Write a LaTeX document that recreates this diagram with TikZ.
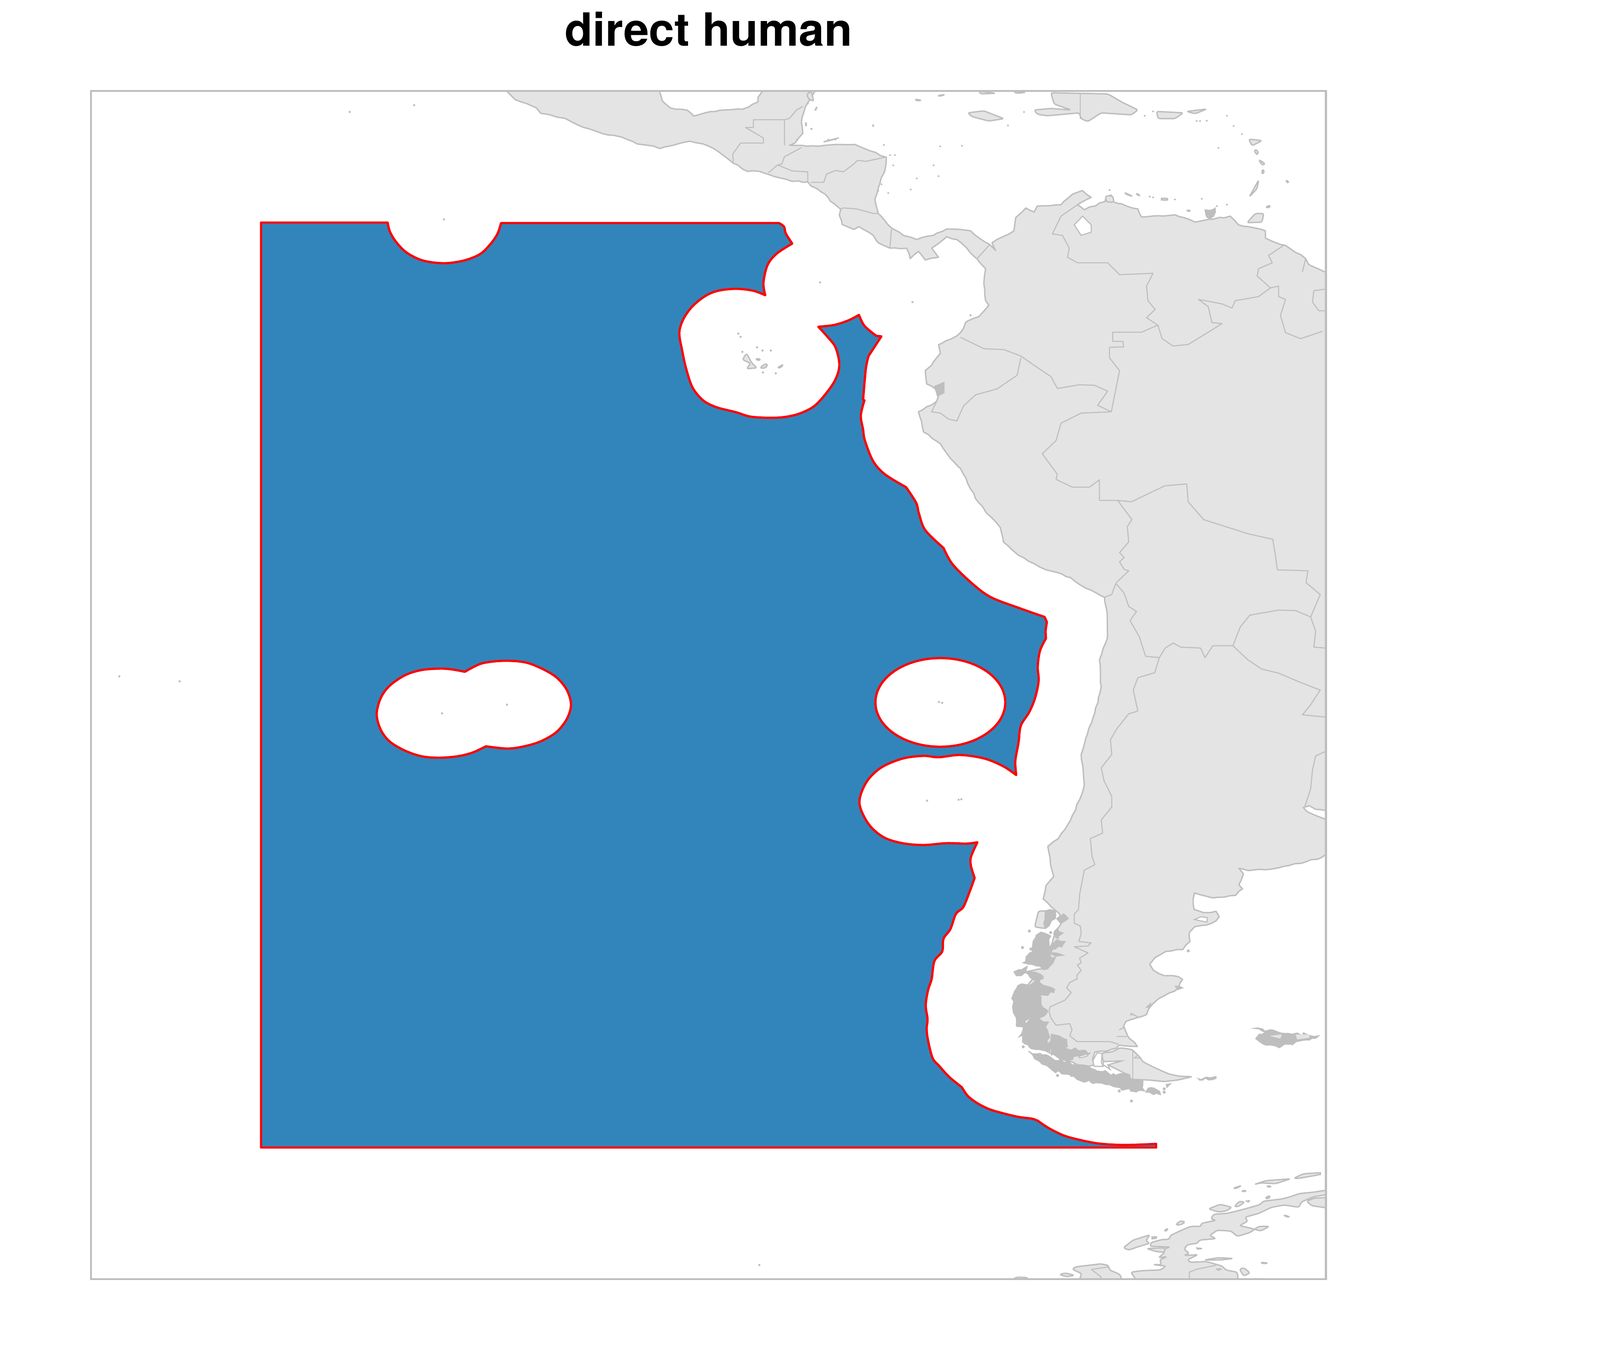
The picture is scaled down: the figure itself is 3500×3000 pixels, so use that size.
\documentclass[tikz,border=0pt]{standalone}
\usepackage{fontspec}
\usepackage{xcolor}
\usetikzlibrary{decorations.pathmorphing}
\newfontfamily\titlefont{TeX Gyre Heros}
\definecolor{landgrey}{HTML}{E4E4E4}
\definecolor{edgegrey}{HTML}{BEBEBE}
\definecolor{oceanblue}{HTML}{3285BB}

\begin{document}
\begin{tikzpicture}[x=0.01cm, y=-0.01cm,
    land/.style={fill=landgrey, draw=edgegrey, line width=0.85pt, line join=round, rounded corners=1.2pt},
    roughland/.style={fill=landgrey, draw=edgegrey, line width=0.85pt, line join=round, decorate,
        decoration={random steps, segment length=3.5pt, amplitude=0.45pt}},
    border/.style={draw=edgegrey, line width=0.65pt, line join=round},
    dense/.style={fill=edgegrey, draw=edgegrey, line width=0.7pt, decorate,
        decoration={random steps, segment length=2.5pt, amplitude=1.2pt}},
    channel/.style={fill=white, draw=edgegrey, line width=0.7pt},
    speck/.style={fill=edgegrey},
    zonesmooth/.style={smooth, tension=0.55}]

\useasboundingbox (0,0) rectangle (3500,3000);

% Title
\node[anchor=base, font=\titlefont\bfseries\fontsize{28.45}{30}\selectfont] (titlelabel) at (1550,101) {direct human};

\begin{scope}
\clip (199,199) rectangle (2900,2800);

% Americas
\draw[roughland] (1110,201) -- (1127,218) -- (1153,227) -- (1173,236) -- (1183,248) -- (1236,259) -- (1251,267) -- (1277,279) -- (1317,292)
  -- (1360,300) -- (1394,315) -- (1417,318) -- (1443,325) -- (1463,320) -- (1486,314) -- (1509,309) -- (1538,315) -- (1561,325)
  -- (1604,357) -- (1635,375) -- (1661,375) -- (1693,386) -- (1733,397) -- (1767,398) -- (1774,407) -- (1805,425) -- (1816,440)
  -- (1839,458) -- (1836,471) -- (1842,491) -- (1868,502) -- (1879,496) -- (1910,515) -- (1921,531) -- (1947,543) -- (1983,543)
  -- (1991,566) -- (2009,550) -- (2024,569) -- (2053,563) -- (2038,543) -- (2071,518) -- (2093,524) -- (2115,543) -- (2137,566)
  -- (2141,572) -- (2156,588) -- (2152,620) -- (2156,658) -- (2163,668) -- (2141,693) -- (2112,706) -- (2101,728) -- (2093,735)
  -- (2053,754) -- (2057,773) -- (2038,799) -- (2024,811) -- (2027,840) -- (2053,856) -- (2049,878) -- (2009,901) -- (2016,923)
  -- (2020,945) -- (2057,971) -- (2079,1003) -- (2101,1025) -- (2123,1070) -- (2141,1100) -- (2158,1123) -- (2188,1154) -- (2195,1186)
  -- (2228,1215) -- (2275,1241) -- (2342,1264) -- (2375,1287) -- (2416,1307) -- (2422,1352) -- (2422,1398) -- (2405,1444) -- (2409,1502)
  -- (2395,1559) -- (2379,1605) -- (2365,1651) -- (2372,1717) -- (2362,1749) -- (2342,1794) -- (2315,1835) -- (2292,1852) -- (2298,1892)
  -- (2305,1918) -- (2288,1938) -- (2282,1967) -- (2300,1985) -- (2318,2000) -- (2322,2020) -- (2313,2033) -- (2305,2050) -- (2297,2075)
  -- (2283,2120) -- (2243,2127) -- (2267,2133) -- (2250,2153) -- (2225,2187) -- (2233,2217) -- (2240,2240) -- (2237,2267) -- (2240,2283)
  -- (2313,2310) -- (2357,2330) -- (2383,2333) -- (2393,2330) -- (2390,2317) -- (2395,2302) -- (2420,2300) -- (2443,2293) -- (2448,2287)
  -- (2488,2290) -- (2467,2267) -- (2458,2245) -- (2463,2235) -- (2487,2227) -- (2508,2220) -- (2513,2207) -- (2535,2185) -- (2577,2163)
  -- (2587,2143) -- (2577,2137) -- (2547,2135) -- (2523,2123) -- (2515,2110) -- (2527,2095) -- (2550,2082) -- (2587,2078) -- (2603,2060)
  -- (2602,2040) -- (2613,2028) -- (2640,2024) -- (2660,2015) -- (2667,2006) -- (2660,1994) -- (2633,1997) -- (2612,1990) -- (2610,1967)
  -- (2613,1954) -- (2653,1965) -- (2703,1959) -- (2718,1945) -- (2710,1936) -- (2720,1912) -- (2710,1900) -- (2730,1905) -- (2797,1899)
  -- (2888,1878) -- (2905,1866) -- (2905,1792) -- (2898,1792) -- (2857,1774) -- (2851,1767) -- (2864,1763) -- (2878,1771) -- (2905,1774)
  -- (2905,595) -- (2898,595) -- (2863,579) -- (2856,566) -- (2812,537) -- (2783,528) -- (2768,521) -- (2768,505) -- (2709,492) -- (2691,473)
  -- (2614,486) -- (2570,470) -- (2497,475) -- (2489,457) -- (2445,445) -- (2434,441) -- (2431,427) -- (2420,430) -- (2417,441) -- (2372,459)
  -- (2357,448) -- (2387,432) -- (2368,417) -- (2346,425) -- (2321,448) -- (2269,451) -- (2262,464) -- (2244,455) -- (2222,476) -- (2218,505)
  -- (2181,524) -- (2170,531) -- (2178,548) -- (2165,535) -- (2152,528) -- (2123,505) -- (2071,501) -- (2042,515) -- (2005,524) -- (1976,515)
  -- (1950,499) -- (1921,467) -- (1914,435) -- (1925,400) -- (1936,371) -- (1939,344) -- (1903,330) -- (1870,316) -- (1833,316) -- (1790,320)
  -- (1753,318) -- (1727,318) -- (1739,313) -- (1756,292) -- (1753,267) -- (1759,244) -- (1762,233) -- (1776,210) -- (1782,201) -- (1782,195)
  -- (1667,195) -- (1667,201) -- (1658,213) -- (1658,223) -- (1624,239) -- (1555,244) -- (1518,254) -- (1503,241) -- (1466,236) -- (1449,221)
  -- (1443,201) -- (1443,195) -- (1110,195) -- cycle;

% Lake and gulfs
\draw[channel] (2368,473) -- (2350,492) -- (2365,515) -- (2387,508) -- (2387,492) -- cycle;
\draw[channel] (2613,2012) -- (2640,2018) -- (2641,2008) -- (2627,2006) -- cycle;

% Frontiers
\draw[border] (1716,318) -- (1716,262) -- (1648,262) -- (1648,279) -- (1631,279) -- (1670,302) -- (1670,313) -- (1620,313) -- (1603,337) -- (1604,357);
\draw[border] (1716,262) -- (1727,259) -- (1742,241) -- (1756,233);
\draw[border] (1753,323) -- (1716,343) -- (1710,359) -- (1701,361) -- (1681,378);
\draw[border] (1701,361) -- (1733,374) -- (1767,376) -- (1767,397);
\draw[border] (1774,399) -- (1802,399) -- (1808,381) -- (1828,373) -- (1845,376) -- (1865,361) -- (1876,351) -- (1894,353) -- (1937,344);
\draw[border] (1839,458) -- (1844,455) -- (1873,457) -- (1910,467) -- (1921,467);
\draw[border] (1950,502) -- (1947,537) -- (1947,543);
\draw[border] (2137,566) -- (2150,552) -- (2165,535);
\draw[border] (2357,448) -- (2321,473) -- (2302,512) -- (2324,515) -- (2339,543) -- (2335,563) -- (2357,575) -- (2423,575) -- (2449,601) -- (2522,598)
  -- (2508,626) -- (2511,658) -- (2527,677) -- (2508,695) -- (2533,712) -- (2542,741);
\draw[border] (2533,712) -- (2522,716) -- (2497,727) -- (2434,727) -- (2434,747) -- (2456,747) -- (2458,759) -- (2427,760) -- (2427,783) -- (2449,811) -- (2431,901);
\draw[border] (2431,901) -- (2401,887) -- (2423,856) -- (2394,843) -- (2361,842) -- (2313,850) -- (2299,824) -- (2266,802) -- (2233,779) -- (2196,765) -- (2152,763) -- (2101,738);
\draw[border] (2233,783) -- (2225,821) -- (2181,851) -- (2134,864) -- (2108,888) -- (2093,921) -- (2075,917) -- (2057,904) -- (2038,901) -- (2049,878);
\draw[border] (2431,901) -- (2365,904) -- (2321,926) -- (2310,964) -- (2280,993) -- (2313,1038) -- (2310,1049) -- (2346,1066) -- (2383,1066) -- (2405,1050) -- (2405,1095);
\draw[border] (2405,1095) -- (2445,1095) -- (2475,1098) -- (2548,1063) -- (2596,1059) -- (2599,1098) -- (2633,1137) -- (2730,1168) -- (2784,1180) -- (2790,1215)
  -- (2794,1247) -- (2861,1249) -- (2857,1275) -- (2888,1301) -- (2867,1350) -- (2878,1381) -- (2874,1416) -- (2898,1418);
\draw[border] (2445,1095) -- (2476,1137) -- (2466,1152) -- (2469,1186) -- (2449,1209) -- (2459,1220) -- (2449,1229) -- (2459,1246) -- (2469,1249) -- (2442,1275) -- (2436,1289) -- (2432,1301) -- (2416,1307);
\draw[border] (2442,1278) -- (2459,1298) -- (2469,1327) -- (2486,1338) -- (2472,1358) -- (2492,1393) -- (2506,1436) -- (2536,1439);
\draw[border] (2536,1439) -- (2549,1418) -- (2566,1407) -- (2583,1416) -- (2626,1418) -- (2636,1439) -- (2653,1413) -- (2697,1413);
\draw[border] (2697,1413) -- (2713,1372) -- (2734,1346) -- (2797,1335) -- (2834,1336) -- (2867,1350);
\draw[border] (2697,1413) -- (2730,1444) -- (2760,1464) -- (2797,1473) -- (2844,1493) -- (2888,1510) -- (2867,1542) -- (2849,1564) -- (2898,1569);
\draw[border] (2536,1439) -- (2526,1472) -- (2489,1483) -- (2479,1510) -- (2489,1556) -- (2469,1562) -- (2442,1596) -- (2429,1619) -- (2432,1651) -- (2409,1680) -- (2415,1708)
  -- (2432,1743) -- (2432,1766) -- (2409,1794) -- (2412,1823) -- (2385,1835) -- (2389,1875) -- (2395,1892) -- (2372,1904) -- (2362,1955) -- (2359,1991) -- (2350,2000);
\draw[border] (2621,655) -- (2643,671) -- (2651,706) -- (2673,708) -- (2651,722) -- (2599,754) -- (2566,757) -- (2542,741);
\draw[border] (2621,655) -- (2673,665) -- (2695,674) -- (2702,658) -- (2753,649) -- (2779,630);
\draw[border] (2808,537) -- (2775,559) -- (2783,575) -- (2753,588) -- (2750,604) -- (2779,630);
\draw[border] (2779,630) -- (2797,626) -- (2797,649) -- (2812,655) -- (2801,690) -- (2812,728) -- (2845,741) -- (2893,725);
\draw[border] (2856,566) -- (2849,595);
\draw[border] (2898,633) -- (2874,636) -- (2871,661) -- (2885,680) -- (2898,680);
\draw[border] (2898,1645) -- (2878,1654) -- (2871,1685) -- (2867,1726) -- (2854,1766);

% Caribbean islands
\begin{scope}[shift={(1800,180)}, xscale=0.7334, yscale=0.6378]
\draw[land] (432,105) -- (480,98) -- (540,125) -- (495,133) -- (445,118) -- cycle;
\draw[land] (630,95) -- (680,90) -- (740,95) -- (690,75) -- (680,36) -- (850,40) -- (895,70) -- (940,95) -- (920,112) -- (830,105) -- (790,135) -- (770,125) -- (765,105) -- (670,115) -- (640,110) -- cycle;
\draw[border] (768,38) -- (768,125);
\draw[land] (995,100) -- (1075,105) -- (1050,125) -- (1000,125) -- cycle;
\draw[land] (465,30) -- (515,38) -- (470,40) -- cycle;
\draw[land] (570,30) -- (605,35) -- (575,38) -- cycle;
\draw[land] (1270,195) -- (1310,200) -- (1280,218) -- cycle;
\draw[land] (1287,230) -- (1298,235) -- (1298,248) -- (1290,245) -- cycle;
\draw[land] (1300,265) -- (1320,280) -- (1310,285) -- cycle;
\draw[land] (1310,298) -- (1318,305) -- (1310,317) -- cycle;
\draw[land] (1300,335) -- (1295,365) -- (1272,393) -- cycle;
\draw[land] (1290,450) -- (1315,450) -- (1310,480) -- (1265,482) -- cycle;
\draw[land] (843,390) -- (865,390) -- (868,412) -- (845,410) -- cycle;
\draw[land] (1085,100) -- (1145,92) -- (1110,108) -- cycle;
\draw[dense] (1140,438) -- (1170,432) -- (1165,460) -- (1145,462) -- cycle;
\draw[land] (275,58) -- (295,62) -- (280,64) -- cycle;
\draw[land] (342,46) -- (365,42) -- (350,48) -- cycle;
\draw[land] (1320,428) -- (1336,422) -- (1330,432) -- cycle;
\draw[land] (1380,335) -- (1390,340) -- (1385,346) -- cycle;
\draw[land] (1085,438) -- (1098,440) -- (1090,444) -- cycle;
\draw[land] (900,378) -- (925,392) -- (905,385) -- cycle;
\draw[land] (935,380) -- (948,390) -- (938,388) -- cycle;
\draw[land] (1010,398) -- (1028,398) -- (1028,405) -- (1010,404) -- cycle;
\draw[land] (0,205) -- (50,190) -- (20,200) -- cycle;
\foreach \xspot/\yspot in {855/370, 975/392, 985/395, 1050/402, 1130/400, 1205/420, 1175/425, 1145/132, 1125/133, 1205/115, 1225/150, 1250/178, 1115/133,
  150/148, 552/148, 600/102, 960/115, 985/100, 182/215, 200/250, 215/250, 210/285, 330/285, 280/330, 262/368, 345/322, 350/220, 415/218, 175/350, 165/372, 195/380, 1180/225}
  \fill[speck] (\xspot,\yspot) circle (3);
\end{scope}

% Central American cays and Pacific islets
\foreach \xspot/\yspot in {1767/226, 1770/210, 1784/240, 1786/236, 1763/274, 1775/282, 1763/270, 1910/275, 1812/306, 1827/305,
  1744/306, 1996/661, 2123/690, 1661/2768, 971/480, 906/230, 765/245, 261/1480, 393/1491,
  1794/618, 1615/730, 1620/737, 1656/760, 1668/767, 1686/767, 1677/800, 1669/815, 1697/817, 1624/770}
  \fill[speck] (\xspot,\yspot) circle (2.4);
\draw[land] (1624,787) -- (1633,773) -- (1645,795) -- (1656,805) -- (1633,807) -- (1642,795) -- cycle;
\draw[land] (1664,802) -- (1678,795) -- (1678,803) -- (1666,807) -- cycle;
\draw[land] (1652,785) -- (1664,785) -- (1660,790) -- cycle;
\draw[land] (1700,805) -- (1714,797) -- (1708,805) -- cycle;
\fill[speck] (2043,845) -- (2066,835) -- (2066,860) -- (2050,868) -- cycle;
\draw[land] (1765,205) -- (1775,200) -- (1780,222) -- (1768,216) -- cycle;

% Patagonia
\begin{scope}[shift={(2180,2000)}, scale=0.3333]
\draw[land] (275,-20) -- (250,85) -- (320,95) -- (390,-20) -- cycle;
\draw[dense] (320,-20) -- (385,-20) -- (385,30) -- (320,95) -- (310,60) -- cycle;
\draw[dense] (395,30) -- (440,0) -- (470,30) -- (420,60) -- cycle;
\draw[land] (690,920) -- (700,970) -- (820,965) -- (730,990) -- (850,1050) -- (880,1085) -- (1000,1090) -- (1100,1100) -- (1190,1090) -- (1285,1068) -- (1200,1065) -- (1130,1050)
  -- (1040,1010) -- (960,970) -- (940,940) -- (895,895) -- (880,888) -- (810,878) -- (760,905) -- (700,910) -- cycle;
\draw[channel] (905,945) -- (925,930) -- (945,945) -- cycle;
\draw[channel] (660,912) -- (692,915) -- (688,975) -- (700,1000) -- (640,1000) -- (632,960) -- cycle;
\draw[channel] (700,970) -- (820,965) -- (730,990) -- (745,1020) -- (700,990) -- cycle;
\draw[channel] (540,935) -- (610,915) -- (590,935) -- (545,945) -- cycle;
\draw[border] (895,890) -- (895,1085);
\draw[border] (510,0) -- (510,60) -- (550,80) -- (555,130) -- (540,180) -- (620,190) -- (600,210) -- (510,215) -- (600,255) -- (545,290) -- (555,320) -- (530,335) -- (555,370) -- (525,405)
  -- (530,425) -- (480,450) -- (460,485) -- (490,515) -- (450,565) -- (350,610) -- (345,640) -- (355,680) -- (390,730) -- (480,720) -- (495,760) -- (480,800) -- (530,838) -- (745,838) -- (800,855);
\draw[border] (880,650) -- (925,675);
\draw[border] (875,662) -- (905,660);
\draw[border] (805,760) -- (835,745);
\draw[border] (790,805) -- (855,805);
\draw[dense] (985,612) -- (1010,590) -- (1005,612) -- cycle;
\draw[dense] (1175,475) -- (1220,485) -- (1190,495) -- cycle;
% archipelago
\draw[dense] (240,180) -- (260,140) -- (310,125) -- (355,145) -- (345,210) -- (375,225) -- (360,290) -- (385,285) -- (370,320) -- (310,365) -- (260,340) -- (175,320) -- (195,280) -- (235,255) -- cycle;
\draw[dense] (360,220) -- (395,170) -- (450,180) -- (430,215) -- (385,230) -- cycle;
\draw[dense] (375,130) -- (400,95) -- (435,125) -- (405,160) -- cycle;
\draw[dense] (350,255) -- (385,255) -- (435,270) -- (400,275) -- cycle;
\draw[dense] (115,380) -- (200,345) -- (190,380) -- (130,405) -- cycle;
\draw[dense] (110,530) -- (140,470) -- (200,465) -- (310,420) -- (280,450) -- (380,495) -- (375,515) -- (285,530) -- (290,590) -- (335,640) -- (280,690) -- (340,710) -- (320,740)
  -- (340,790) -- (330,830) -- (350,900) -- (260,890) -- (170,840) -- (180,790) -- (150,805) -- (175,740) -- (130,735) -- (130,680) -- (105,610) -- (100,555) -- cycle;
\draw[dense] (190,385) -- (260,385) -- (305,410) -- (240,430) -- cycle;
\draw[dense] (360,790) -- (460,825) -- (465,870) -- (410,885) -- (580,895) -- (600,915) -- (540,930) -- (470,960) -- (480,975) -- (420,960) -- (360,925) -- (340,850) -- cycle;
\draw[dense] (210,900) -- (300,925) -- (420,960) -- (520,990) -- (640,1020) -- (780,1060) -- (860,1050) -- (880,1090) -- (960,1090) -- (970,1160) -- (850,1150) -- (720,1120) -- (690,1110)
  -- (590,1100) -- (430,1050) -- (360,1020) -- (300,985) -- (250,950) -- cycle;
\draw[dense] (980,1170) -- (1010,1140) -- (1070,1165) -- (1075,1185) -- (1030,1185) -- cycle;
\draw[dense] (1325,1082) -- (1440,1068) -- (1440,1078) -- (1335,1092) -- cycle;
\draw[dense] (1110,1120) -- (1140,1115) -- (1130,1125) -- cycle;
\fill[white] (190,705) -- (212,690) -- (195,715) -- cycle;
\foreach \xspot/\yspot in {215/112, 170/220, 225/230, 885/1228, 805/1162, 1258/242, 1100/1170, 1100/1148, 400/1060, 175/872, 355/122}
  \fill[speck] (\xspot,\yspot) circle (10);
\end{scope}

% Falklands
\begin{scope}[shift={(1900,1900)}, xscale=0.6696, yscale=0.6059]
\draw[dense] (1265,615) -- (1300,590) -- (1262,578) -- (1345,595) -- (1400,595) -- (1470,605) -- (1440,620) -- (1350,642) -- (1290,635) -- cycle;
\fill[landgrey] (1395,600) -- (1440,600) -- (1440,612) -- (1400,618) -- cycle;
\fill[landgrey] (1310,605) -- (1350,600) -- (1345,615) -- cycle;
\end{scope}

% Antarctic peninsula
\begin{scope}[shift={(2180,2540)}, xscale=0.466, yscale=0.334]
\draw[land] (1560,190) -- (1490,205) -- (1420,215) -- (1380,235) -- (1340,250) -- (1250,265) -- (1240,285) -- (1205,300) -- (1140,325) -- (1080,345) -- (1020,350) -- (1005,380) -- (1030,390)
  -- (960,410) -- (960,430) -- (910,430) -- (860,460) -- (815,490) -- (810,515) -- (780,515) -- (725,535) -- (720,560) -- (815,565) -- (770,585) -- (790,600) -- (760,635) -- (800,628) -- (765,650)
  -- (775,680) -- (735,680) -- (795,690) -- (770,715) -- (680,720) -- (630,730) -- (660,790) -- (1135,790) -- (1130,730) -- (1075,715) -- (1060,690) -- (985,660) -- (910,665) -- (895,650) -- (945,615)
  -- (880,620) -- (905,605) -- (880,580) -- (895,550) -- (945,540) -- (950,520) -- (1030,510) -- (1000,490) -- (1035,455) -- (1100,460) -- (1130,495) -- (1190,470) -- (1230,430) -- (1280,430)
  -- (1240,460) -- (1190,440) -- (1140,425) -- (1180,395) -- (1165,370) -- (1230,345) -- (1290,305) -- (1350,290) -- (1420,305) -- (1430,270) -- (1490,235) -- (1560,220) -- cycle;
\draw[border] (905,790) -- (905,730) -- (940,710) -- (1030,685);
\draw[land] (355,710) -- (370,695) -- (490,675) -- (525,685) -- (530,715) -- (580,745) -- (590,790) -- (385,790) -- (400,740) -- cycle;
\draw[border] (445,712) -- (525,695);
\draw[border] (445,712) -- (490,760) -- (490,790);
\draw[land] (295,745) -- (325,735) -- (365,750) -- (330,760) -- cycle;
\draw[land] (80,770) -- (100,762) -- (145,765) -- (150,785) -- (80,785) -- cycle;
\draw[land] (595,570) -- (640,520) -- (720,485) -- (700,525) -- (720,540) -- (660,565) -- (620,585) -- cycle;
\draw[land] (730,500) -- (750,495) -- (750,510) -- (730,510) -- cycle;
\draw[land] (840,420) -- (860,395) -- (880,395) -- (880,410) -- (860,420) -- cycle;
\draw[land] (785,460) -- (805,440) -- (800,460) -- cycle;
\draw[land] (995,315) -- (1050,285) -- (1105,305) -- (1075,330) -- (1040,335) -- cycle;
\draw[land] (1115,300) -- (1140,265) -- (1165,270) -- (1135,300) -- cycle;
\draw[land] (1260,245) -- (1275,230) -- (1285,235) -- (1275,250) -- cycle;
\draw[land] (1175,265) -- (1190,258) -- (1180,268) -- cycle;
\draw[land] (1110,180) -- (1150,162) -- (1125,182) -- cycle;
\draw[land] (1150,195) -- (1175,195) -- (1160,205) -- cycle;
\draw[land] (1210,155) -- (1265,130) -- (1380,118) -- (1310,150) -- (1240,145) -- cycle;
\draw[land] (1395,115) -- (1440,85) -- (1520,78) -- (1520,90) -- (1420,115) -- cycle;
\draw[land] (1265,165) -- (1290,165) -- (1280,175) -- cycle;
\draw[land] (1345,355) -- (1375,365) -- (1365,370) -- cycle;
\draw[land] (1240,665) -- (1275,670) -- (1250,675) -- cycle;
\draw[land] (1140,710) -- (1160,700) -- (1190,735) -- (1160,755) -- cycle;
\draw[land] (940,572) -- (968,575) -- (945,578) -- cycle;
\draw[land] (975,650) -- (1040,635) -- (1110,640) -- (1050,650) -- (1010,650) -- cycle;
\draw[land] (1035,710) -- (1060,708) -- (1040,715) -- cycle;
\draw[land] (705,575) -- (790,570) -- (790,600) -- (750,595) -- cycle;
\draw[land] (1455,265) -- (1490,245) -- (1560,240) -- (1560,310) -- (1480,295) -- cycle;
\draw[land] (1205,775) -- (1225,770) -- (1230,785) -- cycle;
\end{scope}
\end{scope}

% Zone
\draw[fill=oceanblue, draw=red, line width=1.4pt, line join=round, even odd rule]
  (571,487) -- (848,487)
  -- plot[zonesmooth] coordinates {(848,487) (853,507) (867,530) (890,553) (925,570) (971,576) (1015,570) (1050,556) (1072,535) (1088,512) (1096,488)}
  -- (1704,488)
  -- plot[zonesmooth] coordinates {(1704,488) (1715,496) (1719,511) (1733,533)}
  -- plot[zonesmooth] coordinates {(1733,533) (1699,555) (1679,580) (1670,619) (1674,646)}
  -- plot[zonesmooth] coordinates {(1674,646) (1647,636) (1610,632) (1572,636) (1544,647) (1515,670) (1495,698) (1486,728) (1492,766) (1501,807) (1515,848) (1538,876) (1567,891) (1610,902) (1644,912) (1699,914) (1739,908) (1773,894) (1796,874) (1825,835) (1836,800) (1828,761) (1811,738) (1790,715)}
  -- plot[zonesmooth] coordinates {(1790,715) (1825,711) (1856,701) (1879,689)}
  -- plot[zonesmooth] coordinates {(1879,689) (1891,713) (1917,735)}
  -- (1928,736) -- (1900,779)
  -- plot[zonesmooth] coordinates {(1900,779) (1894,807) (1888,875)}
  -- (1891,876)
  -- plot[zonesmooth] coordinates {(1891,876) (1883,909) (1888,940) (1892,964) (1910,1009) (1936,1038) (1982,1066)}
  -- plot[zonesmooth] coordinates {(1982,1066) (2004,1100) (2010,1123) (2024,1160) (2064,1199)}
  -- plot[zonesmooth] coordinates {(2064,1199) (2084,1235) (2128,1278) (2168,1307) (2228,1330) (2285,1350)}
  -- (2290,1361) -- (2287,1381) -- (2288,1397)
  -- plot[zonesmooth] coordinates {(2288,1397) (2275,1424) (2270,1459) (2272,1490) (2264,1528) (2251,1559) (2233,1588) (2228,1625) (2221,1665) (2223,1696)}
  -- plot[zonesmooth] coordinates {(2223,1696) (2195,1677) (2154,1660) (2101,1652) (2053,1657) (2020,1654) (1974,1660) (1927,1680) (1895,1712) (1880,1757) (1900,1803) (1933,1832) (1974,1845) (2020,1849) (2071,1845) (2114,1846) (2138,1843)}
  -- plot[zonesmooth] coordinates {(2138,1843) (2124,1875) (2124,1895) (2132,1921)}
  -- plot[zonesmooth] coordinates {(2132,1921) (2120,1954) (2107,1985) (2091,2000) (2079,2033) (2064,2054) (2061,2082) (2044,2103) (2038,2142) (2030,2167) (2025,2200) (2029,2230) (2027,2251) (2030,2276) (2040,2315) (2055,2333) (2077,2357) (2104,2379)}
  -- plot[zonesmooth] coordinates {(2104,2379) (2117,2398) (2138,2414) (2164,2427) (2194,2436) (2228,2444) (2258,2448) (2271,2453)}
  -- plot[zonesmooth] coordinates {(2271,2453) (2295,2469) (2328,2485) (2365,2495) (2402,2502) (2442,2505) (2482,2505) (2529,2503)}
  -- (2529,2511) -- (571,2511) -- cycle
  (2057,1537) ellipse [x radius=142, y radius=97]
  (1017,1470)
  -- plot[zonesmooth] coordinates {(1017,1470) (1053,1452) (1100,1446) (1147,1449) (1183,1462) (1217,1482) (1240,1510) (1249,1542) (1240,1573) (1217,1602) (1183,1622) (1147,1633) (1110,1638) (1063,1633)}
  -- plot[zonesmooth] coordinates {(1063,1633) (1033,1647) (1000,1655) (960,1658) (923,1655) (887,1643) (853,1623) (833,1597) (824,1563) (833,1527) (853,1500) (887,1477) (923,1466) (963,1463) (990,1465) (1017,1470)}
  -- cycle;

% Specks inside the holes
\foreach \xspot/\yspot in {967/1561, 1109/1542, 2054/1536, 2061/1538, 2028/1752, 2097/1750, 2103/1749}
  \fill[speck] (\xspot,\yspot) circle (2.4);

% Frame
\draw[draw=edgegrey, line width=1.4pt] (199,199) rectangle (2900,2799);

\end{tikzpicture}
\end{document}
